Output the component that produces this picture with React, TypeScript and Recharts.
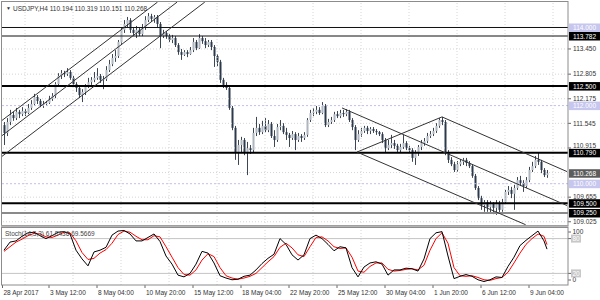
import React from "react";
import { ComposedChart, Bar, Line, XAxis, YAxis, ReferenceLine } from "recharts";

const FONT = '"Liberation Sans", Arial, sans-serif';

// USDJPY H4 candles (open = previous close)
const firstOpen = 111.5;
const closes = [
  111.30, 111.58, 111.76, 111.68, 111.84, 111.78, 111.86, 111.81, 111.94, 112.04,
  112.22, 112.12, 112.02, 112.04, 112.07, 112.17, 112.25, 112.55, 112.76, 112.83,
  112.81, 112.86, 112.71, 112.55, 112.45, 112.27, 112.35, 112.50, 112.60, 112.66,
  112.71, 112.76, 112.66, 112.68, 112.91, 113.06, 113.22, 113.27, 113.63, 113.94,
  114.09, 114.19, 113.94, 113.86, 113.94, 113.83, 113.99, 114.19, 114.29, 114.22,
  114.27, 114.09, 113.78, 113.86, 113.78, 113.68, 113.73, 113.55, 113.37, 113.30,
  113.37, 113.32, 113.42, 113.63, 113.47, 113.73, 113.65, 113.55, 113.63, 113.50,
  113.27, 113.12, 112.66, 112.53, 112.45, 111.94, 111.43, 110.81, 110.99, 111.12,
  110.81, 110.91, 110.86, 111.30, 111.43, 111.32, 111.48, 111.37, 111.53, 111.22,
  111.12, 111.45, 111.48, 111.32, 111.25, 111.17, 111.27, 111.12, 111.22, 111.17,
  111.25, 111.63, 111.81, 111.84, 111.89, 111.81, 111.99, 111.50, 111.58, 111.63,
  111.78, 111.73, 111.81, 111.78, 111.84, 111.63, 111.45, 111.12, 111.27, 111.35,
  111.43, 111.35, 111.40, 111.35, 111.32, 111.27, 111.12, 110.91, 110.99, 111.04,
  110.97, 110.86, 110.94, 111.04, 110.91, 110.86, 110.66, 110.79, 110.94, 111.04,
  111.09, 111.22, 111.27, 111.35, 111.48, 111.63, 111.58, 110.79, 110.61, 110.50,
  110.35, 110.50, 110.56, 110.61, 110.53, 110.45, 110.20, 109.89, 109.63, 109.45,
  109.53, 109.40, 109.48, 109.38, 109.50, 109.33, 109.53, 109.79, 109.84, 109.74,
  109.89, 110.09, 110.02, 109.94, 110.09, 110.35, 110.45, 110.61, 110.56, 110.35,
  110.22, 110.268,
];
const highs = [
  111.58, 111.68, 111.89, 111.84, 111.94, 111.89, 111.96, 111.91, 112.04, 112.14,
  112.30, 112.27, 112.17, 112.12, 112.12, 112.25, 112.32, 112.60, 112.83, 112.91,
  112.89, 112.96, 112.91, 112.76, 112.60, 112.50, 112.42, 112.55, 112.71, 112.73,
  112.86, 112.96, 112.81, 112.76, 113.01, 113.17, 113.32, 113.42, 113.68, 114.01,
  114.19, 114.27, 114.24, 114.01, 114.04, 113.99, 114.09, 114.29, 114.37, 114.35,
  114.32, 114.32, 114.14, 113.94, 113.91, 113.83, 113.81, 113.78, 113.60, 113.45,
  113.42, 113.42, 113.50, 113.73, 113.68, 113.83, 113.78, 113.73, 113.68, 113.68,
  113.55, 113.32, 113.17, 112.71, 112.60, 112.50, 111.99, 111.48, 111.12, 111.20,
  111.17, 111.07, 110.99, 111.43, 111.71, 111.53, 111.61, 111.68, 111.63, 111.58,
  111.37, 111.53, 111.63, 111.55, 111.43, 111.30, 111.35, 111.32, 111.30, 111.27,
  111.32, 111.68, 111.89, 111.94, 111.99, 111.96, 112.09, 112.04, 111.66, 111.71,
  111.84, 111.86, 111.89, 111.89, 111.91, 111.89, 111.68, 111.50, 111.37, 111.43,
  111.48, 111.48, 111.45, 111.45, 111.40, 111.35, 111.32, 111.17, 111.12, 111.25,
  111.12, 111.02, 111.02, 111.25, 111.09, 110.97, 110.91, 110.86, 110.99, 111.12,
  111.17, 111.30, 111.35, 111.43, 111.55, 111.68, 111.71, 111.63, 110.86, 110.68,
  110.56, 110.58, 110.63, 110.66, 110.66, 110.58, 110.50, 110.25, 109.94, 109.69,
  109.58, 109.58, 109.56, 109.53, 109.58, 109.56, 109.61, 109.84, 109.94, 109.92,
  109.97, 110.17, 110.20, 110.09, 110.17, 110.43, 110.56, 110.71, 110.79, 110.61,
  110.40, 110.35,
];
const lows = [
  110.99, 111.22, 111.50, 111.61, 111.63, 111.68, 111.73, 111.73, 111.78, 111.89,
  111.99, 112.04, 111.96, 111.94, 111.99, 112.04, 112.12, 112.19, 112.50, 112.68,
  112.73, 112.76, 112.66, 112.50, 112.35, 112.19, 112.09, 112.27, 112.45, 112.53,
  112.60, 112.66, 112.58, 112.42, 112.63, 112.86, 113.01, 113.12, 113.22, 113.58,
  113.86, 114.01, 113.86, 113.78, 113.73, 113.78, 113.78, 113.94, 114.14, 114.14,
  114.12, 114.01, 113.47, 113.73, 113.71, 113.63, 113.60, 113.50, 113.30, 113.17,
  113.27, 113.24, 113.30, 113.37, 113.42, 113.45, 113.58, 113.47, 113.50, 113.42,
  112.99, 113.01, 112.58, 112.45, 112.40, 111.89, 111.37, 110.61, 110.48, 110.81,
  110.73, 110.22, 110.76, 110.81, 111.22, 111.25, 111.27, 111.32, 111.32, 111.17,
  110.94, 111.07, 111.37, 111.27, 111.12, 110.94, 111.12, 110.86, 111.07, 111.07,
  111.12, 111.20, 111.58, 111.73, 111.78, 111.76, 111.78, 111.45, 111.45, 111.53,
  111.58, 111.68, 111.68, 111.71, 111.73, 111.58, 111.37, 110.86, 111.07, 111.20,
  111.30, 111.27, 111.27, 111.30, 111.25, 111.22, 111.04, 110.81, 110.86, 110.91,
  110.89, 110.79, 110.81, 110.89, 110.86, 110.79, 110.56, 110.48, 110.71, 110.86,
  110.97, 111.04, 111.17, 111.22, 111.30, 111.43, 111.50, 110.73, 110.53, 110.45,
  110.30, 110.30, 110.45, 110.48, 110.45, 110.40, 110.15, 109.84, 109.58, 109.33,
  109.28, 109.28, 109.25, 109.22, 109.20, 109.25, 109.28, 109.48, 109.71, 109.63,
  109.33, 109.84, 109.94, 109.79, 109.89, 110.04, 110.30, 110.40, 110.48, 110.27,
  110.17, 110.15,
];

// Stochastic (14,3,3), sampled every second bar plus the last one
const stochMain = [
  60, 74, 76, 84, 90, 91, 85, 80, 85, 91,
  92, 88, 60, 45, 33, 57, 60, 65, 86, 93,
  94, 88, 76, 76, 82, 88, 75, 50, 36, 17,
  14, 20, 36, 58, 55, 38, 16, 12, 9, 10,
  15, 17, 26, 37, 46, 53, 80, 70, 52, 43,
  52, 80, 86, 80, 70, 59, 66, 64, 30, 14,
  31, 38, 40, 36, 17, 26, 26, 29, 28, 24,
  45, 80, 90, 92, 50, 11, 15, 18, 15, 9,
  6, 9, 14, 13, 32, 48, 68, 77, 85, 93,
  76, 61.84,
];
const stochSignal = [
  58, 66, 74, 79, 85, 89, 88, 83, 82, 86,
  91, 90, 76, 56, 44, 46, 55, 61, 72, 87,
  93, 91, 84, 78, 78, 85, 83, 66, 48, 30,
  18, 17, 26, 43, 54, 49, 30, 16, 12, 10,
  12, 15, 20, 30, 40, 49, 65, 72, 64, 52,
  49, 66, 82, 83, 76, 66, 63, 64, 48, 24,
  22, 32, 38, 38, 27, 24, 25, 27, 28, 26,
  34, 60, 80, 90, 72, 30, 16, 15, 16, 13,
  9, 8, 11, 13, 22, 38, 55, 70, 80, 88,
  84, 69.57,
];

const timeTickBars = [-0.5, 15, 31, 47, 63, 79, 95, 111, 127, 143, 159, 175];
const timeTickLabels = [
  "28 Apr 2017", "3 May 12:00", "8 May 04:00", "10 May 20:00", "15 May 12:00", "18 May 04:00",
  "22 May 20:00", "25 May 12:00", "30 May 04:00", "1 Jun 20:00", "6 Jun 12:00", "9 Jun 04:00",
];
const gridBars = [7, 23, 39, 55, 71, 87, 103, 119, 135, 151, 167, 183];

const priceTicks = [113.45, 112.805, 112.175, 111.545, 110.915, 109.655, 109.025];
const priceGrid = [113.45, 112.805, 112.175, 111.545, 110.915, 110.285, 109.655, 109.025];
const roundLevels = [112.0, 110.0];
const thinLevels = [114.0, 113.782];
const thickLevels = [112.5, 110.79, 109.5];
const grayLevels = [109.25];
const priceTags = [
  { price: 114.0, kind: "round" },
  { price: 113.782, kind: "line" },
  { price: 112.5, kind: "line" },
  { price: 112.0, kind: "round" },
  { price: 110.79, kind: "line" },
  { price: 110.268, kind: "bid" },
  { price: 110.0, kind: "round" },
  { price: 109.5, kind: "line" },
  { price: 109.25, kind: "line" },
];

// trend lines / channels: [bar1, price1, bar2, price2]
const trendLines = [
  [-0.67, 111.62, 51.17, 114.65],
  [-0.67, 111.23, 57.7, 114.65],
  [-0.67, 110.7, 66.93, 114.65],
  [112.67, 111.94, 187.67, 109.44],
  [117.67, 110.81, 173.87, 108.95],
  [117.67, 110.81, 146, 111.71],
  [146, 111.71, 187.67, 110.31],
];

const PRICE_MIN = 108.9165;
const PRICE_MAX = 114.6527;
const X_DOMAIN: [number, number] = [-0.667, 188];

const bars = closes.map((c, i) => {
  const open = i === 0 ? firstOpen : closes[i - 1];
  return { i, open, close: c, high: highs[i], low: lows[i], range: [lows[i], highs[i]] };
});

const stochData = stochMain.map((k, n) => ({
  i: n < 91 ? n * 2 : 181,
  k,
  d: stochSignal[n],
}));

function Candle(props: any) {
  const { x, y, width, height, payload } = props;
  if (x == null || !payload) return null;
  const { open, close, high, low } = payload;
  const cx = Math.round(x + width / 2);
  const k = high > low ? height / (high - low) : 0;
  const top = y + (high - Math.max(open, close)) * k;
  const bot = y + (high - Math.min(open, close)) * k;
  const up = close >= open;
  return (
    <g>
      <line x1={cx + 0.5} x2={cx + 0.5} y1={y} y2={y + height} stroke="#3c4756" strokeWidth={1} />
      <rect
        x={cx - 0.5}
        y={top}
        width={2}
        height={Math.max(1, bot - top)}
        fill={up ? "#aeb6bf" : "#2c3a4c"}
      />
    </g>
  );
}

function PriceTick(props: any) {
  const { x, y, payload } = props;
  const v = Number(payload.value);
  // nudge a label up when a price tag sits just under it
  const crowded = priceTags.some((t) => t.price < v && v - t.price < 0.15);
  return (
    <g>
      <line x1={x} x2={x + 3} y1={y} y2={y} stroke="#666" />
      <text x={x + 5} y={y + (crowded ? 0.5 : 2.3)} fontSize={6.5} fill="#333">
        {v.toFixed(3)}
      </text>
    </g>
  );
}

function tagLabel(price: number, kind: string) {
  const bg = kind === "round" ? "#c6c6ee" : kind === "bid" ? "#5c5c5c" : "#000";
  return (props: any) => {
    const vb = props.viewBox;
    if (!vb) return null;
    const x = vb.x + vb.width + 1;
    const y = vb.y;
    return (
      <g>
        <rect x={x} y={y - 4} width={31} height={8.5} fill={bg} />
        <text x={x + 4} y={y + 2.5} fontSize={6.5} fill="#fff">
          {price.toFixed(3)}
        </text>
      </g>
    );
  };
}

function StochTick(props: any) {
  const { x, y, payload } = props;
  const v = payload.value;
  const ty = v === 100 ? y + 5 : v === 0 ? y - 5 : y;
  const boxed = v === 80 || v === 20;
  return (
    <g>
      <line x1={x} x2={x + 3} y1={ty} y2={ty} stroke="#666" />
      {boxed && <rect x={x + 3} y={ty - 4} width={10} height={8} fill="#c8c8c8" />}
      <text x={x + 4.5} y={ty + 2.3} fontSize={6.5} fill={boxed ? "#fff" : "#333"}>
        {v}
      </text>
    </g>
  );
}

function TimeTick(props: any) {
  const { x, y, payload } = props;
  const n = timeTickBars.indexOf(payload.value);
  return (
    <g>
      <line x1={x} x2={x} y1={y} y2={y + 3} stroke="#666" />
      <text x={x + 1} y={y + 10} fontSize={6.5} fill="#333">
        {timeTickLabels[n]}
      </text>
    </g>
  );
}

export default function App() {
  return (
    <div
      style={{
        position: "absolute",
        left: 0,
        top: 0,
        width: 600,
        height: 300,
        background: "#fff",
        fontFamily: FONT,
      }}
    >
      {/* Price panel */}
      <div style={{ position: "absolute", left: 0, top: 0 }}>
        <ComposedChart width={600} height={226} data={bars} margin={{ top: 2, right: 0, bottom: 0, left: 2 }}>
          <XAxis type="number" dataKey="i" domain={X_DOMAIN} hide allowDataOverflow />
          <YAxis
            orientation="right"
            domain={[PRICE_MIN, PRICE_MAX]}
            ticks={priceTicks}
            width={32}
            tickSize={0}
            tickMargin={0}
            tickLine={false}
            axisLine={false}
            allowDataOverflow
            interval={0}
            tick={<PriceTick />}
          />
          {priceGrid.map((p) => (
            <ReferenceLine key={"g" + p} y={p} stroke="#d6d6d6" strokeDasharray="1 2" />
          ))}
          {gridBars.map((b) => (
            <ReferenceLine key={"v" + b} x={b} stroke="#d6d6d6" strokeDasharray="1 2" />
          ))}
          {roundLevels.map((p) => (
            <ReferenceLine key={"r" + p} y={p} stroke="#c0c0ec" strokeDasharray="2 2" />
          ))}
          {thinLevels.map((p) => (
            <ReferenceLine key={"t" + p} y={p} stroke="#111" strokeWidth={1} />
          ))}
          {thickLevels.map((p) => (
            <ReferenceLine key={"k" + p} y={p} stroke="#000" strokeWidth={2} />
          ))}
          {grayLevels.map((p) => (
            <ReferenceLine key={"s" + p} y={p} stroke="#8a8a8a" strokeWidth={2} />
          ))}
          {trendLines.map((t, n) => (
            <ReferenceLine
              key={"tl" + n}
              segment={[
                { x: t[0], y: t[1] },
                { x: t[2], y: t[3] },
              ]}
              stroke="#333"
              strokeWidth={1}
              ifOverflow="hidden"
            />
          ))}
          <Bar dataKey="range" barSize={3} shape={Candle} isAnimationActive={false} />
          {priceTags.map((t) => (
            <ReferenceLine
              key={"tag" + t.price}
              y={t.price}
              stroke="none"
              label={tagLabel(t.price, t.kind)}
            />
          ))}
        </ComposedChart>
      </div>

      {/* Stochastic panel */}
      <div style={{ position: "absolute", left: 0, top: 227 }}>
        <ComposedChart width={600} height={73} data={stochData} margin={{ top: 0, right: 0, bottom: 0, left: 2 }}>
          <XAxis
            type="number"
            dataKey="i"
            domain={X_DOMAIN}
            ticks={timeTickBars}
            interval={0}
            height={15}
            tickSize={0}
            tickMargin={0}
            tickLine={false}
            axisLine={false}
            allowDataOverflow
            tick={<TimeTick />}
          />
          <YAxis
            orientation="right"
            domain={[0, 100]}
            ticks={[0, 20, 80, 100]}
            width={32}
            tickSize={0}
            tickMargin={0}
            tickLine={false}
            axisLine={false}
            interval={0}
            tick={<StochTick />}
          />
          {gridBars.map((b) => (
            <ReferenceLine key={"sv" + b} x={b} stroke="#d6d6d6" strokeDasharray="1 2" />
          ))}
          <ReferenceLine y={80} stroke="#c4c4c4" />
          <ReferenceLine y={20} stroke="#c4c4c4" />
          <Line dataKey="d" stroke="#ff0000" strokeWidth={1} dot={false} isAnimationActive={false} />
          <Line dataKey="k" stroke="#000" strokeWidth={1} dot={false} isAnimationActive={false} />
        </ComposedChart>
      </div>

      {/* frames and captions */}
      <svg width={600} height={300} style={{ position: "absolute", left: 0, top: 0, pointerEvents: "none" }}>
        <rect x={1.5} y={1.5} width={566.5} height={224} fill="none" stroke="#8c8c8c" />
        <rect x={1.5} y={227.5} width={566.5} height={57.5} fill="none" stroke="#8c8c8c" />
        <rect x={1} y={225.5} width={567.5} height={1.5} fill="#b4b4b4" />
        <text x={6} y={10} fontSize={5} fill="#333">▼</text>
        <text x={13} y={10.5} fontSize={6.5} fill="#333">
          USDJPY,H4  110.194 110.319 110.151 110.268
        </text>
        <text x={5} y={236} fontSize={6.5} fill="#444">
          Stoch(14,3,3) 61.8436 69.5669
        </text>
      </svg>
    </div>
  );
}
